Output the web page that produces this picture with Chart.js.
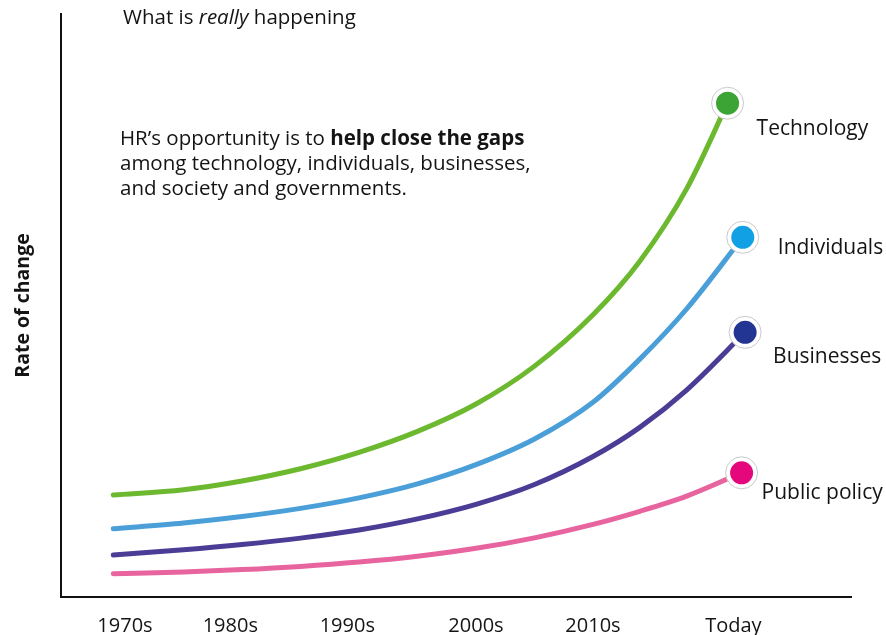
<!DOCTYPE html>
<html>
<head>
<meta charset="utf-8">
<script src="https://cdn.jsdelivr.net/npm/chart.js@4.4.0/dist/chart.umd.min.js"></script>
<style>
  html, body { margin: 0; padding: 0; background: #fff; }
</style>
</head>
<body>
<canvas id="chart" width="886" height="635"></canvas>
<script>
// x positions of the curve points (years), shared by every series
const years = [1969, 1975, 1980, 1985, 1990, 1995, 2000, 2005, 2010, 2014, 2018];
// where each curve reaches "today" (marker)
const endYears = [2021.5, 2022.8, 2023.0, 2022.7];

const seriesNames = ['Technology', 'Individuals', 'Businesses', 'Public policy'];
// rate of change (0-100 index), last value is the marker point
const technology   = [17.5, 18.4, 19.9, 22.0, 24.8, 28.4, 33.1, 39.6, 48.4, 57.6, 70.0, 84.7];
const individuals  = [11.7, 12.7, 13.8, 15.2, 17.0, 19.4, 22.7, 27.1, 33.4, 40.8, 49.4, 61.7];
const businesses   = [7.2, 8.1, 9.0, 10.1, 11.5, 13.4, 15.9, 19.3, 24.1, 29.1, 35.5, 45.4];
const publicPolicy = [4.0, 4.3, 4.7, 5.25, 6.0, 7.0, 8.35, 10.15, 12.45, 14.7, 17.3, 21.3];

const tickYears  = [1970, 1979, 1989, 2000, 2010, 2022];
const tickLabels = ['1970s', '1980s', '1990s', '2000s', '2010s', 'Today'];

const lineColors = ['#6cb92f', '#4a9fd8', '#4b3c96', '#e8649f'];
const dotColors  = ['#3ca435', '#11a0e4', '#233593', '#e5087d'];
// label offset from the marker centre
const labelOffsets = [[29, 26], [35, 11], [28, 25], [20, 20]];

const FONT = '"Open Sans", "Liberation Sans", sans-serif';
const TEXT = '#141414';

const allValues = [technology, individuals, businesses, publicPolicy];
const datasets = allValues.map((vals, i) => ({
    label: seriesNames[i],
    data: vals.map((v, j) => ({ x: j < years.length ? years[j] : endYears[i], y: v })),
    borderColor: lineColors[i],
    borderWidth: 5,
    borderCapStyle: 'round',
    cubicInterpolationMode: 'monotone',
    pointRadius: 0,
    fill: false
}));

// draws text made of several font runs on one line
function drawRuns(ctx, runs, x, y) {
    runs.forEach(([text, font]) => {
        ctx.font = font;
        ctx.fillText(text, x, y);
        x += ctx.measureText(text).width;
    });
}

const decorations = {
    id: 'decorations',
    afterDatasetsDraw(chart) {
        const ctx = chart.ctx;
        chart.data.datasets.forEach((ds, i) => {
            const meta = chart.getDatasetMeta(i);
            const pt = meta.data[meta.data.length - 1];
            ctx.save();
            ctx.beginPath();
            ctx.arc(pt.x, pt.y, 16, 0, Math.PI * 2);
            ctx.fillStyle = '#fff';
            ctx.fill();
            ctx.lineWidth = 1;
            ctx.strokeStyle = '#c9c9c9';
            ctx.stroke();
            ctx.beginPath();
            ctx.arc(pt.x, pt.y, 11.5, 0, Math.PI * 2);
            ctx.fillStyle = dotColors[i];
            ctx.fill();

            ctx.font = '21px ' + FONT;
            ctx.fillStyle = TEXT;
            ctx.textAlign = 'left';
            ctx.textBaseline = 'middle';
            ctx.fillText(ds.label, pt.x + labelOffsets[i][0], pt.y + labelOffsets[i][1]);
            ctx.restore();
        });
    },
    afterDraw(chart) {
        const ctx = chart.ctx;
        ctx.save();
        ctx.fillStyle = TEXT;
        ctx.textAlign = 'left';
        ctx.textBaseline = 'middle';
        drawRuns(ctx, [
            ['What is ', '20.5px ' + FONT],
            ['really', 'italic 20.5px ' + FONT],
            [' happening', '20.5px ' + FONT]
        ], 123, 18);
        drawRuns(ctx, [
            ['HR\u2019s opportunity is to ', '20.5px ' + FONT],
            ['help close the gaps', 'bold 20.5px ' + FONT]
        ], 120, 139);
        drawRuns(ctx, [['among technology, individuals, businesses,', '20.5px ' + FONT]], 120, 164);
        drawRuns(ctx, [['and society and governments.', '20.5px ' + FONT]], 120, 189);
        ctx.restore();
    }
};

new Chart(document.getElementById('chart'), {
    type: 'line',
    data: { datasets },
    options: {
        responsive: false,
        animation: false,
        layout: { padding: { left: 12, top: 14, right: 35, bottom: -20 } },
        plugins: {
            legend: { display: false },
            tooltip: { enabled: false }
        },
        scales: {
            x: {
                type: 'linear',
                min: 1964.53,
                max: 2032.05,
                grid: { display: false, drawTicks: false },
                border: { display: true, color: '#111', width: 2 },
                afterBuildTicks: axis => { axis.ticks = tickYears.map(v => ({ value: v })); },
                ticks: {
                    padding: 19,
                    autoSkip: false,
                    maxRotation: 0,
                    color: TEXT,
                    font: { family: FONT, size: 20, lineHeight: 1 },
                    callback: (v, i) => tickLabels[i]
                }
            },
            y: {
                min: 0,
                max: 100,
                grid: { display: false, drawTicks: false },
                border: { display: true, color: '#111', width: 2 },
                ticks: { display: false },
                title: {
                    display: true,
                    text: 'Rate of change',
                    color: TEXT,
                    font: { family: FONT, size: 19.5, weight: 'bold', lineHeight: 1.2 },
                    padding: { top: 0, bottom: 25.6 }
                }
            }
        }
    },
    plugins: [decorations]
});
</script>
</body>
</html>
